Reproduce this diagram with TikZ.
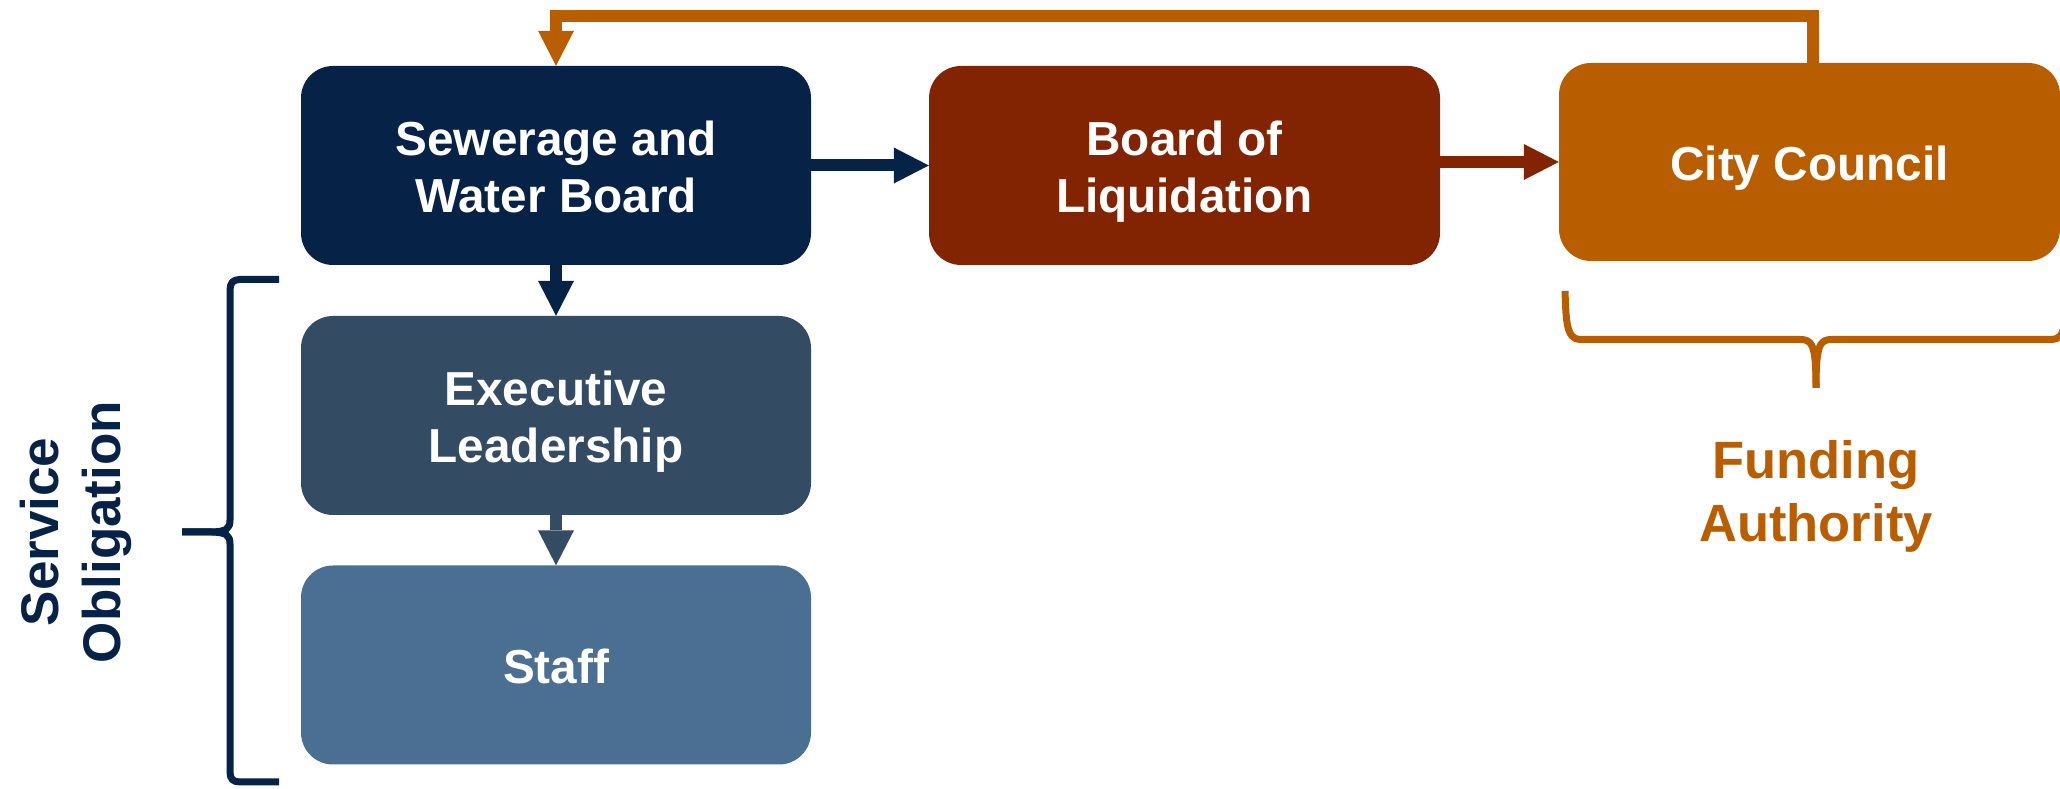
\documentclass[tikz,border=0pt]{standalone}
\usepackage{fontspec}
\setmainfont{Liberation Sans}
\usetikzlibrary{arrows.meta}
\definecolor{navy}{RGB}{6,34,70}
\definecolor{slate}{RGB}{51,75,99}
\definecolor{steel}{RGB}{74,111,146}
\definecolor{rust}{RGB}{130,36,2}
\definecolor{amber}{RGB}{185,94,0}
\newcommand{\tstrut}{\rule{0pt}{48.2pt}}
\newcommand{\bstrut}{\rule[-10.5pt]{0pt}{10.5pt}}
\begin{document}
\begin{tikzpicture}[x=1pt,y=1pt,
  orgbox/.style={rectangle, rounded corners=32pt, minimum width=510pt, minimum height=199pt,
    inner sep=0pt, text=white, align=center, font=\fontsize{47.7}{56.7}\selectfont\bfseries},
  conn/.style={line width=12pt, -{Triangle[width=36pt,length=35pt,line width=0pt]}},
  bracepath/.style={line width=7pt, line cap=butt, line join=round},
  sidelabel/.style={align=center, inner sep=0pt}]
\clip (0,0) rectangle (2060,789);

% boxes
\node[orgbox, fill=navy] (sew) at (556,623.5) {\tstrut Sewerage and\\Water Board\bstrut};
\node[orgbox, fill=slate] (exec) at (556,373.5) {\tstrut Executive\\Leadership\bstrut};
\node[orgbox, fill=steel] (staff) at (556,124) {\tstrut Staff\bstrut};
\node[orgbox, fill=rust, minimum width=511pt] (board) at (1184.5,623.5) {\tstrut Board of\\Liquidation\bstrut};
\node[orgbox, fill=amber, minimum width=501pt, minimum height=198pt] (city) at (1809.5,627) {\tstrut City Council\bstrut};

% connectors
\draw[conn, navy] (sew.east) -- (board.west);
\draw[conn, rust] (board.east |- city.west) -- (city.west);
\draw[conn, navy] (sew.south) -- (exec.north);
\draw[conn, slate] (exec.south) -- (staff.north);
\coordinate (top) at (0,772.5);
\draw[conn, amber] ([xshift=3.5pt]city.north) -- ([xshift=3.5pt]city.north |- top) -| (sew.north);

% service brace
\draw[bracepath, navy] (279,509.5) -- (240,509.5) .. controls (233,509.5) and (230,506) .. (230,499)
  -- (230,269) .. controls (230,260) and (226,257.5) .. (212,257) -- (182,257);
\draw[bracepath, navy] (182,257) -- (212,257) .. controls (226,256.5) and (230,254) .. (230,245)
  -- (230,17) .. controls (230,10) and (233,7) .. (240,7) -- (279,7);
\node[sidelabel, rotate=90, text=navy, font=\fontsize{53}{62}\selectfont\bfseries] (svc) at (75.5,257)
  {\rule{0pt}{40pt}Service\\Obligation\rule[-11.5pt]{0pt}{11.5pt}};

% funding brace
\draw[bracepath, amber] (1565,498) .. controls (1566,470) and (1566,449.5) .. (1580,449.5)
  -- (1800,449.5) .. controls (1812,449.5) and (1816,445) .. (1816,401);
\draw[bracepath, amber] (1816,401) .. controls (1816,445) and (1820,449.5) .. (1832,449.5)
  -- (2052,449.5) .. controls (2066,449.5) and (2066,470) .. (2067,498);
\node[sidelabel, text=amber, font=\fontsize{52.5}{63}\selectfont\bfseries] (fund) at (1816,292.75)
  {\rule{0pt}{40pt}Funding\\Authority\rule[-11.5pt]{0pt}{11.5pt}};
\end{tikzpicture}
\end{document}
